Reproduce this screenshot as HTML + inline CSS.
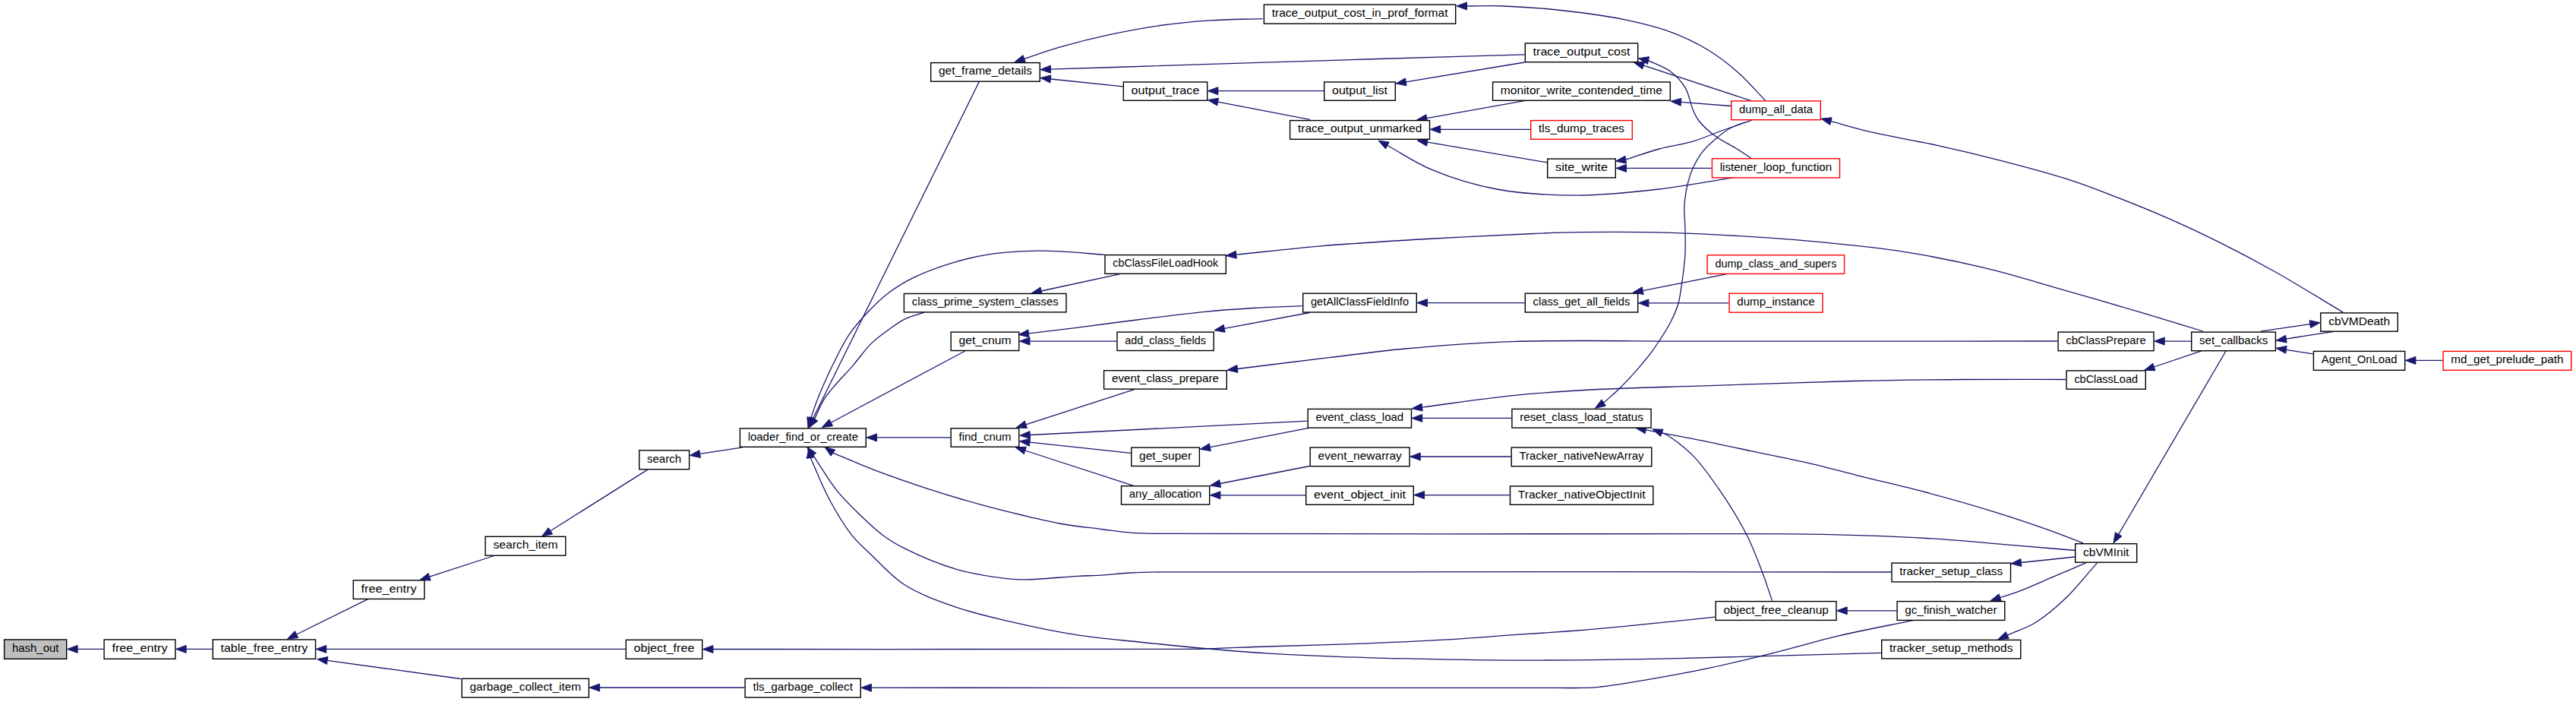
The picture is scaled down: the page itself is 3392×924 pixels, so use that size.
<!DOCTYPE html>
<html><head><meta charset="utf-8"><style>
html,body{margin:0;padding:0;background:#fff;width:3392px;height:924px;overflow:hidden}
svg{display:block}
text{font-family:"Liberation Sans",sans-serif;font-size:15px;fill:#000;text-anchor:middle}
</style></head><body>
<svg width="3392" height="924" viewBox="0 0 3392 924">
<rect width="3392" height="924" fill="#fff"/>
<g fill="none" stroke="#191970" stroke-width="1.3">
<path d="M102.1,854.4L136.4,854.4"/>
<path d="M245.1,854.4L279.6,854.4"/>
<path d="M390.5,835L484.4,788.6"/>
<path d="M429.7,854.4L823.6,854.4"/>
<path d="M431,869.4L606.8,893.5"/>
<path d="M565.5,759.2L650.7,731.5"/>
<path d="M724.8,698.8L852.4,618.4"/>
<path d="M921.6,597.4L977.8,588.8"/>
<path d="M1070.5,550.9L1289.6,107"/>
<path d="M1067.7,550C1071,540.9 1073.5,532.7 1077.6,522.7C1082.8,509.9 1089.9,493.7 1096.8,479.8C1103.6,466.1 1110.3,451.9 1118.5,439.9C1126.1,428.7 1134.8,419.1 1143.8,409.7C1152.7,400.5 1161.9,391.6 1172,384.1C1182,376.7 1191.9,370.8 1204.1,364.9C1218.9,357.7 1238.1,350.8 1255.4,345.6C1272.3,340.5 1289.5,336.6 1306.7,334.1C1323.7,331.6 1342.1,330.8 1358,330.3C1371.7,329.9 1382.3,330.2 1396.4,330.9C1413.7,331.7 1434.9,333.9 1454.1,335.4"/>
<path d="M1072.6,551.4C1077.4,541.9 1080.2,532.8 1087,522.7C1096,509.3 1113.4,492.6 1124.2,479.8C1132.8,469.7 1139,460.3 1147,452.4C1154.3,445.3 1162.1,439.8 1169.8,434.2C1177.3,428.8 1184.6,423.2 1192.6,419.4C1200.3,415.7 1208.6,414.1 1216.6,411.4"/>
<path d="M1094.2,556.2L1270.7,462"/>
<path d="M1154.5,575.9L1251.5,575.9"/>
<path d="M1097,596.1C1115.5,603.8 1133,611.7 1152.6,619.2C1174.1,627.4 1198,635.7 1220.9,643.1C1243.6,650.5 1267.1,657.5 1289.3,663.6C1310.1,669.3 1330.6,674.4 1350,679C1367.7,683.2 1384,687.1 1400.9,690C1417.4,692.9 1434.6,694.5 1450,696.5C1463.7,698.2 1475.6,700.2 1488.8,701.2C1502.5,702.2 1508.3,702.1 1530.7,702.4C1622.4,703.7 2076,702.3 2230,702.6C2305.9,702.8 2346.4,702.2 2400,703.3C2448.1,704.3 2493.2,705.9 2536.7,708.5C2576.4,710.8 2615.8,714.7 2650.7,717.6C2680.3,720 2705.4,722.2 2732.7,724.5"/>
<path d="M1070.8,599.3C1081,614.5 1090.5,631.3 1101.3,644.8C1111,657 1121.5,667.1 1132,677.3C1142.1,687.1 1152.4,697 1162.8,704.7C1172.1,711.6 1179.4,716 1191.2,721.9C1208.8,730.7 1236.4,742.6 1259.5,749.3C1282,755.8 1311.2,759.9 1327.9,761.8C1337.5,762.9 1341.1,763 1350.7,762.9C1367.4,762.8 1400.8,759.4 1419.1,758.4C1431.4,757.7 1439.1,757.8 1450,757.1C1462.2,756.4 1475.6,754.7 1488.8,754C1502.5,753.3 1507.6,753.2 1530.7,752.9C1641.3,751.5 2170.4,753 2490.3,753"/>
<path d="M1067.2,602.6C1075.7,621.2 1083.3,641.1 1092.7,658.5C1101.6,674.9 1111.9,692.2 1121.8,704.7C1129.6,714.5 1136.2,719.8 1145.6,728.7C1158.2,740.7 1173.4,758.4 1191.2,769.8C1210.8,782.4 1236.4,791.4 1259.5,799.4C1282,807.2 1303.4,811.9 1327.9,817.6C1356,824.2 1389.5,831.3 1419.1,835.9C1446.8,840.2 1472.6,842.1 1500,845C1528.2,848 1557.6,851 1585.9,853.5C1613.4,855.9 1636.9,857.9 1667.4,859.8C1706.2,862.2 1758.9,864.4 1800,865.7C1835.7,866.9 1866.7,867.2 1900,867.8C1933.3,868.4 1960.6,869.1 2000,869.1C2057.1,869.1 2135.5,868.1 2209.6,866.6C2293.3,865 2387.9,861.7 2477,859.3"/>
<path d="M938.9,854.5C1140.9,854.5 1461.7,854.8 1545,854.4C1566.6,854.3 1569.9,854.4 1585.9,854C1608.4,853.5 1636.9,852 1667.4,851C1706.2,849.7 1758.9,848.5 1800,846.9C1835.7,845.5 1866.7,844.1 1900,842.2C1933.3,840.2 1970.5,837.2 2000,835.2C2023.4,833.6 2041.9,832.6 2062.9,831C2083.9,829.4 2104.8,827.6 2125.8,825.7C2146.8,823.8 2167.2,821.6 2188.7,819.4C2211.3,817.1 2235.1,814.5 2258.3,812.1"/>
<path d="M789.6,905L980.4,905"/>
<path d="M1147.4,905.2C1398.3,905.3 1745.1,905.4 1900,905.4C1969.1,905.4 2017.8,905.4 2050,905.4C2065.3,905.4 2074,905.7 2083.9,905.4C2091.7,905.2 2096,905.2 2104.8,904.3C2120.2,902.8 2145.3,898.7 2167.7,894.9C2193.7,890.5 2223.7,885.1 2251.6,879.2C2279.6,873.3 2307.5,866.3 2335.4,859.3C2363.4,852.3 2390,844.2 2419.3,837.3C2451.2,829.8 2486.4,823.3 2519.9,816.3"/>
<path d="M1348.7,77.4C1364.5,72.2 1378.8,66.8 1396,61.9C1416.1,56.1 1439.9,50.1 1462,45.4C1483.9,40.7 1505.9,36.6 1528,33.5C1549.9,30.4 1571.8,28.4 1594,26.9C1616.6,25.4 1639.7,25.4 1662.6,24.6"/>
<path d="M1383.5,91.2C1472.3,88.3 1573.8,85.1 1650,82.7C1707.1,80.9 1745.9,79.7 1800,78C1863.6,76.1 1938.4,73.9 2007.6,71.8"/>
<path d="M1383.4,104L1478.6,113.8"/>
<path d="M1603.9,119.7L1743,119.7"/>
<path d="M1603.7,134.1L1724.8,157.3"/>
<path d="M1851.3,107.8L2007.6,82"/>
<path d="M1878.7,155.6L2007.6,132.6"/>
<path d="M1896.7,170.3L2015,170.3"/>
<path d="M1879.5,187.2L2037,213.8"/>
<path d="M1826.9,191.5C1846.4,202.1 1863.5,214.3 1885.4,223.4C1910.7,234 1940.4,243.4 1970.8,249C2004.1,255.2 2042,257.1 2077.6,257.1C2113.2,257.1 2149.4,253 2184.3,249C2218.1,245.1 2250.5,238.7 2283.6,233.6"/>
<path d="M1931.5,8C1947.6,8 1961.7,7.3 1979.8,8C2003.1,8.9 2033.1,11 2059.6,14C2086.3,17 2114.8,20.8 2139.4,25.9C2160.9,30.4 2180.5,35 2199.2,41.9C2216.9,48.4 2233.8,56.5 2249.1,65.8C2263.6,74.6 2276.5,84.7 2289,95.7C2301.7,106.9 2312.9,120.3 2324.9,132.6"/>
<path d="M2164.1,86.2L2306,132.6"/>
<path d="M2170.5,79.6C2180.1,84.4 2191,87.6 2199.2,93.8C2207.1,99.7 2214.2,107.3 2219.2,115.7C2224.3,124.3 2225.8,137 2229.4,145C2232.1,151 2233.8,155 2237.8,160C2243.1,166.6 2252,174.3 2259.8,180C2267.3,185.5 2275.9,189.1 2283.7,193.9C2291.5,198.7 2299,203.8 2306.6,208.8"/>
<path d="M2213.5,134.4L2279,139.5"/>
<path d="M2140.7,210.1C2155.5,205.4 2170.1,200 2185,196C2199.8,192 2215.5,190.2 2229.9,185.9C2243.7,181.8 2257.1,175.5 2269.7,171C2280.9,167 2295.5,162.3 2301.6,160C2304.1,159 2305.1,158.5 2306.9,157.8"/>
<path d="M2141.5,221.4L2253.7,221.4"/>
<path d="M2410.9,159.7C2429.1,164.5 2445.2,169.5 2465.5,174.2C2490.7,180.1 2522.5,185.1 2550.9,191.3C2579.5,197.6 2608,204.4 2636.4,211.8C2665,219.2 2696.3,227.5 2721.9,235.7C2743.3,242.6 2759.6,249 2780,256.8C2803,265.6 2828.6,275.8 2852.7,286.3C2877,296.9 2901.2,308.3 2925.3,320.3C2949.7,332.5 2972.8,344.8 2998,359C3025.9,374.8 3056.1,393.7 3085.2,411.1"/>
<path d="M2111.7,530.1C2118.2,524.2 2124.8,518.8 2131.3,512.5C2138.2,505.8 2145.1,498.5 2151.9,490.9C2158.9,483 2166.7,473.8 2172.6,466.1C2177.4,459.8 2180.8,454.9 2185,448.5C2189.7,441.3 2195.2,432.9 2199.4,424.8C2203.5,416.8 2207.2,408.8 2209.8,400C2212.5,390.6 2213.5,380.4 2215,370C2216.6,358.9 2218.2,347.1 2218.9,335.5C2219.6,323.6 2219.1,310.7 2218.9,299.5C2218.7,289.6 2217.4,280.9 2217.9,271.6C2218.4,262.3 2219.8,252.6 2221.9,243.7C2223.9,235.3 2226.5,227.2 2229.9,219.8C2233.2,212.7 2237.1,205.9 2241.8,199.9C2246.4,194 2251.8,189 2257.8,183.9C2264.3,178.3 2272.1,172 2279.7,168C2286.7,164.2 2294.3,162.7 2301.6,160"/>
<path d="M1627.8,335.2C1665.2,331.4 1700.4,327.1 1739.8,323.8C1783.8,320.1 1832.9,317.2 1879.5,314.5C1926.1,311.8 1982.3,309 2019.3,307.5C2043.7,306.5 2056.3,305.9 2080,305.6C2113.2,305.2 2159.2,305.1 2200,306.3C2242.5,307.6 2293.3,310.7 2330,313.2C2356.9,315 2374.2,316.4 2400,318.9C2431.9,322 2471.3,325.7 2506.8,331.3C2542.5,336.9 2578.2,344.2 2613.6,352.7C2649.4,361.3 2684.8,372.5 2720.4,382.6C2756,392.8 2795,404 2827.3,413.6C2854.2,421.6 2876.4,428.5 2901,436"/>
<path d="M1371.2,383L1474.8,360.6"/>
<path d="M1354.5,438.9C1374.8,436.5 1393.5,434.3 1415.5,431.6C1441.6,428.3 1472.5,424 1501,420.5C1529.6,416.9 1560.4,412.9 1586.9,410.3C1609.5,408.1 1628.8,406.8 1650,405.5C1671.4,404.2 1693.1,403.6 1714.6,402.6"/>
<path d="M1356,449.1L1470.3,449.1"/>
<path d="M1612.2,432.3L1724.4,411.5"/>
<path d="M1879.5,398.6L2007.6,398.6"/>
<path d="M2163.2,382.6L2274,360.7"/>
<path d="M2170.9,398.9L2276.3,398.9"/>
<path d="M1629.4,485.5C1669.6,480.5 1711.7,475.3 1750,470.7C1784.9,466.5 1813.7,462.3 1850,459C1893.1,455.1 1937.5,451.4 1991.9,449.6C2065.1,447.1 2151.7,449.3 2250,449.2C2381.2,449.1 2556.2,449.1 2709.3,449"/>
<path d="M2850.2,449.1L2885,449.1"/>
<path d="M2836.4,483L2898.8,461.8"/>
<path d="M3041.7,426.7L2976.7,436.2"/>
<path d="M3010.4,446.1C3019.8,444.6 3028.7,443.1 3038.5,441.6C3049.2,439.9 3060.8,438.2 3072,436.5"/>
<path d="M3010.4,460.4L3045.7,465.8"/>
<path d="M3180.9,474.4L3216.3,474.4"/>
<path d="M2789.7,703.3L2931,462"/>
<path d="M1872.6,536.1C1912.4,530.9 1953.6,524.6 1991.9,520.7C2027.3,517.1 2056.7,515.1 2094.4,513C2140.9,510.5 2195.5,509.5 2250,507.7C2310.3,505.7 2381.4,502.9 2440.6,501.5C2492.3,500.3 2538.3,499.8 2585.8,499.5C2631.5,499.2 2675.4,499.5 2720.2,499.5"/>
<path d="M1872.7,550.4L1990.2,550.4"/>
<path d="M1350.8,558.8L1493.6,512.7"/>
<path d="M1356.3,572.5L1721.5,554.2"/>
<path d="M1355.9,582.2L1489.1,596.4"/>
<path d="M1349.8,593L1491.9,639.1"/>
<path d="M1593.4,588.7L1724.4,563.2"/>
<path d="M1606.6,636.5L1724.4,613.5"/>
<path d="M1606.9,651.8L1719,651.8"/>
<path d="M1870.3,601L1989.5,601"/>
<path d="M1875.5,651.6L1987.8,651.6"/>
<path d="M2167.2,565.8C2187.5,569.7 2206.7,573.1 2228.3,577.4C2252.8,582.3 2280.6,588.4 2306.7,593.9C2332.8,599.4 2360.2,604.6 2385,610.3C2407.7,615.6 2426.8,621 2450,626.8C2476.7,633.5 2506.9,640.3 2536,648C2566.2,656 2599.6,665.5 2627.9,674.3C2652.5,681.9 2675.7,689.8 2696.3,697.1C2713.4,703.2 2727.4,709 2743,714.9"/>
<path d="M2188.2,569.8C2190.5,570.7 2192,570.8 2194.9,572.5C2202.2,576.7 2218.8,589.2 2229.8,600.4C2242.2,613.1 2253.5,629.4 2264.7,645.7C2276.8,663.4 2290,684.4 2299.6,703.3C2308.2,720.2 2314.7,737.8 2320.6,753.3C2325.7,766.6 2329.2,778.2 2333.5,790.6"/>
<path d="M2432.2,803.8L2497.4,803.8"/>
<path d="M2661.3,740.5L2732,733"/>
<path d="M2633.7,786.5C2642.4,783.6 2650.3,781.4 2659.8,777.8C2671.8,773.3 2685.9,766.8 2699.7,760.9C2714.7,754.5 2731,747.6 2746.6,740.9"/>
<path d="M2643.2,836.1C2655.4,830.6 2667.8,827 2679.8,819.7C2693.3,811.4 2706.7,800.1 2719.6,787.8C2734,774.2 2747.5,756.5 2761.5,740.9"/>
</g>
<g fill="#191970" stroke="#191970" stroke-width="1">
<polygon points="88.6,854.4 102.1,849.4 102.1,859.4"/>
<polygon points="231.6,854.4 245.1,849.4 245.1,859.4"/>
<polygon points="378.4,841 388.3,830.5 392.7,839.5"/>
<polygon points="416.2,854.4 429.7,849.4 429.7,859.4"/>
<polygon points="417.6,867.6 431.7,864.5 430.3,874.4"/>
<polygon points="552.7,763.4 564,754.5 567.1,764"/>
<polygon points="713.4,706 722.2,694.6 727.5,703"/>
<polygon points="908.3,599.5 920.9,592.5 922.4,602.4"/>
<polygon points="1064.5,563 1066,548.7 1075,553.1"/>
<polygon points="1064,563 1062.8,548.7 1072.5,551.4"/>
<polygon points="1065.6,563 1068.3,548.9 1076.9,554"/>
<polygon points="1082.3,562.6 1091.9,551.8 1096.6,560.7"/>
<polygon points="1141,575.9 1154.5,570.9 1154.5,580.9"/>
<polygon points="1085.9,588.4 1099.8,592 1094.1,600.2"/>
<polygon points="1062.8,588.4 1074.8,596.3 1066.8,602.2"/>
<polygon points="1065,589.3 1072.1,601.8 1062.3,603.4"/>
<polygon points="925.4,854.5 938.9,849.5 938.9,859.5"/>
<polygon points="776.1,905 789.6,900 789.6,910"/>
<polygon points="1133.9,905.2 1147.4,900.2 1147.4,910.2"/>
<polygon points="1335.9,81.7 1347.1,72.6 1350.3,82.1"/>
<polygon points="1370,91.6 1383.3,86.2 1383.7,96.2"/>
<polygon points="1370,102.6 1383.9,99 1382.9,109"/>
<polygon points="1590.4,119.7 1603.9,114.7 1603.9,124.7"/>
<polygon points="1590.4,131.6 1604.6,129.2 1602.7,139"/>
<polygon points="1838,110 1850.5,102.9 1852.1,112.7"/>
<polygon points="1865.4,158 1877.8,150.7 1879.6,160.5"/>
<polygon points="1883.2,170.3 1896.7,165.3 1896.7,175.3"/>
<polygon points="1866.2,185 1880.3,182.3 1878.7,192.2"/>
<polygon points="1815,185 1829.2,187.1 1824.5,195.9"/>
<polygon points="1918,8 1931.5,3 1931.5,13"/>
<polygon points="2151.3,82 2165.7,81.4 2162.6,90.9"/>
<polygon points="2157.3,76.8 2171.5,74.7 2169.5,84.5"/>
<polygon points="2200,133.3 2213.8,129.4 2213.1,139.3"/>
<polygon points="2127.4,212.2 2140,205.2 2141.5,215.1"/>
<polygon points="2128,221.4 2141.5,216.4 2141.5,226.4"/>
<polygon points="2397.9,156.2 2412.2,154.8 2409.7,164.5"/>
<polygon points="2100.3,537.3 2109,525.9 2114.4,534.3"/>
<polygon points="1614.4,336.6 1627.3,330.3 1628.3,340.2"/>
<polygon points="1358,386 1370,378.1 1372.3,387.9"/>
<polygon points="1341.1,440.5 1353.9,433.9 1355.1,443.9"/>
<polygon points="1342.5,449.1 1356,444.1 1356,454.1"/>
<polygon points="1598.9,434.8 1611.3,427.4 1613.1,437.3"/>
<polygon points="1866,398.6 1879.5,393.6 1879.5,403.6"/>
<polygon points="2150,385.2 2162.3,377.7 2164.2,387.5"/>
<polygon points="2157.4,398.9 2170.9,393.9 2170.9,403.9"/>
<polygon points="1616,487.1 1628.8,480.5 1630,490.4"/>
<polygon points="2836.7,449.1 2850.2,444.1 2850.2,454.1"/>
<polygon points="2823.6,487.3 2834.8,478.2 2838,487.7"/>
<polygon points="3055.1,424.7 3042.5,431.6 3041,421.7"/>
<polygon points="2997.1,448.3 3009.6,441.2 3011.2,451.1"/>
<polygon points="2997.1,458.3 3011.2,455.4 3009.7,465.3"/>
<polygon points="3167.4,474.4 3180.9,469.4 3180.9,479.4"/>
<polygon points="2782.9,714.9 2785.4,700.7 2794,705.8"/>
<polygon points="1859.2,537.8 1872,531.1 1873.2,541"/>
<polygon points="1859.2,550.4 1872.7,545.4 1872.7,555.4"/>
<polygon points="1338,562.9 1349.3,554 1352.4,563.5"/>
<polygon points="1342.8,573.2 1356,567.5 1356.5,577.5"/>
<polygon points="1342.5,580.8 1356.5,577.3 1355.4,587.2"/>
<polygon points="1337,588.8 1351.4,588.2 1348.3,597.7"/>
<polygon points="1580.1,591.3 1592.4,583.8 1594.3,593.6"/>
<polygon points="1593.4,639.1 1605.7,631.6 1607.6,641.4"/>
<polygon points="1593.4,651.8 1606.9,646.8 1606.9,656.8"/>
<polygon points="1856.8,601 1870.3,596 1870.3,606"/>
<polygon points="1862,651.6 1875.5,646.6 1875.5,656.6"/>
<polygon points="2153.9,563.3 2168.1,560.9 2166.2,570.7"/>
<polygon points="2175.7,564.8 2190.1,565.2 2186.4,574.5"/>
<polygon points="2418.7,803.8 2432.2,798.8 2432.2,808.8"/>
<polygon points="2647.9,741.9 2660.8,735.5 2661.9,745.5"/>
<polygon points="2620.9,790.8 2632.1,781.8 2635.3,791.3"/>
<polygon points="2630.9,841.6 2641.2,831.5 2645.3,840.6"/>
</g>
<g stroke-width="1.4">
<rect x="5.6" y="841.9" width="82.1" height="25.4" fill="#bfbfbf" stroke="#000000"/>
<text x="46.7" y="858.1" textLength="61.5" lengthAdjust="spacingAndGlyphs">hash_out</text>
<rect x="137.1" y="841.9" width="93.8" height="25.4" fill="#ffffff" stroke="#000000"/>
<text x="184" y="858.1" textLength="73.2" lengthAdjust="spacingAndGlyphs">free_entry</text>
<rect x="280.3" y="841.9" width="135.2" height="25.4" fill="#ffffff" stroke="#000000"/>
<text x="347.9" y="858.1" textLength="114.6" lengthAdjust="spacingAndGlyphs">table_free_entry</text>
<rect x="465.2" y="763.8" width="93.6" height="24.6" fill="#ffffff" stroke="#000000"/>
<text x="512" y="779.6" textLength="73" lengthAdjust="spacingAndGlyphs">free_entry</text>
<rect x="639.1" y="706.3" width="105.7" height="24.9" fill="#ffffff" stroke="#000000"/>
<text x="692" y="722.2" textLength="85.1" lengthAdjust="spacingAndGlyphs">search_item</text>
<rect x="841.7" y="592.8" width="65.9" height="24.9" fill="#ffffff" stroke="#000000"/>
<text x="874.6" y="608.8" textLength="45.3" lengthAdjust="spacingAndGlyphs">search</text>
<rect x="974.4" y="563.9" width="165.9" height="24.4" fill="#ffffff" stroke="#000000"/>
<text x="1057.3" y="579.6" textLength="145.3" lengthAdjust="spacingAndGlyphs">loader_find_or_create</text>
<rect x="824.3" y="842.3" width="100.4" height="24.9" fill="#ffffff" stroke="#000000"/>
<text x="874.5" y="858.2" textLength="79.8" lengthAdjust="spacingAndGlyphs">object_free</text>
<rect x="608.2" y="893.3" width="167.2" height="24.7" fill="#ffffff" stroke="#000000"/>
<text x="691.8" y="909.1" textLength="146.6" lengthAdjust="spacingAndGlyphs">garbage_collect_item</text>
<rect x="981.1" y="893.3" width="152.1" height="24.7" fill="#ffffff" stroke="#000000"/>
<text x="1057.2" y="909.1" textLength="131.5" lengthAdjust="spacingAndGlyphs">tls_garbage_collect</text>
<rect x="1225.7" y="82.6" width="143.6" height="24.6" fill="#ffffff" stroke="#000000"/>
<text x="1297.5" y="98.4" textLength="123" lengthAdjust="spacingAndGlyphs">get_frame_details</text>
<rect x="1190.4" y="386.5" width="213.6" height="24.4" fill="#ffffff" stroke="#000000"/>
<text x="1297.2" y="402.2" textLength="193" lengthAdjust="spacingAndGlyphs">class_prime_system_classes</text>
<rect x="1252.2" y="437.1" width="89.6" height="24.4" fill="#ffffff" stroke="#000000"/>
<text x="1297" y="452.8" textLength="69" lengthAdjust="spacingAndGlyphs">get_cnum</text>
<rect x="1252.2" y="563.8" width="89.6" height="24.4" fill="#ffffff" stroke="#000000"/>
<text x="1297" y="579.5" textLength="69" lengthAdjust="spacingAndGlyphs">find_cnum</text>
<rect x="1479.3" y="108" width="110.4" height="24.3" fill="#ffffff" stroke="#000000"/>
<text x="1534.5" y="123.7" textLength="89.8" lengthAdjust="spacingAndGlyphs">output_trace</text>
<rect x="1455" y="335.6" width="159.3" height="24.7" fill="#ffffff" stroke="#000000"/>
<text x="1534.7" y="351.4" textLength="138.7" lengthAdjust="spacingAndGlyphs">cbClassFileLoadHook</text>
<rect x="1471" y="437.1" width="127.2" height="24.4" fill="#ffffff" stroke="#000000"/>
<text x="1534.6" y="452.8" textLength="106.6" lengthAdjust="spacingAndGlyphs">add_class_fields</text>
<rect x="1453.6" y="487.7" width="161.7" height="24.4" fill="#ffffff" stroke="#000000"/>
<text x="1534.5" y="503.4" textLength="141.1" lengthAdjust="spacingAndGlyphs">event_class_prepare</text>
<rect x="1489.8" y="589.1" width="89.6" height="24.4" fill="#ffffff" stroke="#000000"/>
<text x="1534.6" y="604.8" textLength="69" lengthAdjust="spacingAndGlyphs">get_super</text>
<rect x="1476.5" y="639.7" width="116.2" height="24.4" fill="#ffffff" stroke="#000000"/>
<text x="1534.6" y="655.4" textLength="95.6" lengthAdjust="spacingAndGlyphs">any_allocation</text>
<rect x="1664.4" y="6.1" width="252.3" height="25.1" fill="#ffffff" stroke="#000000"/>
<text x="1790.6" y="22.1" textLength="231.7" lengthAdjust="spacingAndGlyphs">trace_output_cost_in_prof_format</text>
<rect x="1743.7" y="108" width="93.6" height="24.3" fill="#ffffff" stroke="#000000"/>
<text x="1790.5" y="123.7" textLength="73" lengthAdjust="spacingAndGlyphs">output_list</text>
<rect x="1698.6" y="158.6" width="183.9" height="24.7" fill="#ffffff" stroke="#000000"/>
<text x="1790.6" y="174.4" textLength="163.3" lengthAdjust="spacingAndGlyphs">trace_output_unmarked</text>
<rect x="1715.7" y="386.2" width="149.6" height="24.8" fill="#ffffff" stroke="#000000"/>
<text x="1790.5" y="402.1" textLength="129" lengthAdjust="spacingAndGlyphs">getAllClassFieldInfo</text>
<rect x="1722.2" y="538.4" width="136.3" height="24.7" fill="#ffffff" stroke="#000000"/>
<text x="1790.3" y="554.2" textLength="115.7" lengthAdjust="spacingAndGlyphs">event_class_load</text>
<rect x="1725.2" y="589" width="130.9" height="24.7" fill="#ffffff" stroke="#000000"/>
<text x="1790.7" y="604.8" textLength="110.3" lengthAdjust="spacingAndGlyphs">event_newarray</text>
<rect x="1719.7" y="639.9" width="141.6" height="24.4" fill="#ffffff" stroke="#000000"/>
<text x="1790.5" y="655.6" textLength="121" lengthAdjust="spacingAndGlyphs">event_object_init</text>
<rect x="2008.3" y="57" width="148.4" height="24.7" fill="#ffffff" stroke="#000000"/>
<text x="2082.5" y="72.8" textLength="127.8" lengthAdjust="spacingAndGlyphs">trace_output_cost</text>
<rect x="1965.6" y="108" width="233.7" height="24.3" fill="#ffffff" stroke="#000000"/>
<text x="2082.4" y="123.7" textLength="213.1" lengthAdjust="spacingAndGlyphs">monitor_write_contended_time</text>
<rect x="2015.7" y="158.6" width="133.6" height="24.7" fill="#ffffff" stroke="#ff0000"/>
<text x="2082.5" y="174.4" textLength="113" lengthAdjust="spacingAndGlyphs">tls_dump_traces</text>
<rect x="2037.7" y="209.1" width="89.6" height="24.8" fill="#ffffff" stroke="#000000"/>
<text x="2082.5" y="225" textLength="69" lengthAdjust="spacingAndGlyphs">site_write</text>
<rect x="2008.3" y="386.2" width="148.4" height="24.8" fill="#ffffff" stroke="#000000"/>
<text x="2082.5" y="402.1" textLength="127.8" lengthAdjust="spacingAndGlyphs">class_get_all_fields</text>
<rect x="1990.9" y="538.4" width="183.2" height="24.7" fill="#ffffff" stroke="#000000"/>
<text x="2082.5" y="554.2" textLength="162.6" lengthAdjust="spacingAndGlyphs">reset_class_load_status</text>
<rect x="1990.2" y="589" width="184.6" height="24.7" fill="#ffffff" stroke="#000000"/>
<text x="2082.5" y="604.8" textLength="164" lengthAdjust="spacingAndGlyphs">Tracker_nativeNewArray</text>
<rect x="1988.5" y="639.9" width="188.3" height="24.4" fill="#ffffff" stroke="#000000"/>
<text x="2082.7" y="655.6" textLength="167.7" lengthAdjust="spacingAndGlyphs">Tracker_nativeObjectInit</text>
<rect x="2279.7" y="132.9" width="117.6" height="24.8" fill="#ffffff" stroke="#ff0000"/>
<text x="2338.5" y="148.8" textLength="97" lengthAdjust="spacingAndGlyphs">dump_all_data</text>
<rect x="2254.4" y="208.8" width="168.1" height="25.1" fill="#ffffff" stroke="#ff0000"/>
<text x="2338.4" y="224.8" textLength="147.5" lengthAdjust="spacingAndGlyphs">listener_loop_function</text>
<rect x="2248.1" y="335.8" width="180.5" height="24.6" fill="#ffffff" stroke="#ff0000"/>
<text x="2338.4" y="351.6" textLength="159.9" lengthAdjust="spacingAndGlyphs">dump_class_and_supers</text>
<rect x="2277" y="386.2" width="123" height="25" fill="#ffffff" stroke="#ff0000"/>
<text x="2338.5" y="402.2" textLength="102.4" lengthAdjust="spacingAndGlyphs">dump_instance</text>
<rect x="2259.2" y="791.6" width="158.8" height="24.8" fill="#ffffff" stroke="#000000"/>
<text x="2338.6" y="807.5" textLength="138.2" lengthAdjust="spacingAndGlyphs">object_free_cleanup</text>
<rect x="2710.1" y="437.1" width="125.9" height="24.6" fill="#ffffff" stroke="#000000"/>
<text x="2773.1" y="452.9" textLength="105.3" lengthAdjust="spacingAndGlyphs">cbClassPrepare</text>
<rect x="2721.1" y="487.9" width="104.2" height="24.3" fill="#ffffff" stroke="#000000"/>
<text x="2773.2" y="503.5" textLength="83.6" lengthAdjust="spacingAndGlyphs">cbClassLoad</text>
<rect x="2491" y="741.1" width="156.5" height="24.8" fill="#ffffff" stroke="#000000"/>
<text x="2569.2" y="757" textLength="135.9" lengthAdjust="spacingAndGlyphs">tracker_setup_class</text>
<rect x="2498.1" y="791.6" width="141.7" height="24.8" fill="#ffffff" stroke="#000000"/>
<text x="2568.9" y="807.5" textLength="121.1" lengthAdjust="spacingAndGlyphs">gc_finish_watcher</text>
<rect x="2477.7" y="842.4" width="183.1" height="24.5" fill="#ffffff" stroke="#000000"/>
<text x="2569.2" y="858.1" textLength="162.5" lengthAdjust="spacingAndGlyphs">tracker_setup_methods</text>
<rect x="2732.7" y="715.7" width="81" height="24.5" fill="#ffffff" stroke="#000000"/>
<text x="2773.2" y="731.5" textLength="60.4" lengthAdjust="spacingAndGlyphs">cbVMInit</text>
<rect x="2885.7" y="437.1" width="110.7" height="24.6" fill="#ffffff" stroke="#000000"/>
<text x="2941.1" y="452.9" textLength="90.1" lengthAdjust="spacingAndGlyphs">set_callbacks</text>
<rect x="3055.8" y="411.9" width="101.5" height="24.3" fill="#ffffff" stroke="#000000"/>
<text x="3106.6" y="427.5" textLength="80.9" lengthAdjust="spacingAndGlyphs">cbVMDeath</text>
<rect x="3046.4" y="462.4" width="120.3" height="24.9" fill="#ffffff" stroke="#000000"/>
<text x="3106.6" y="478.4" textLength="99.7" lengthAdjust="spacingAndGlyphs">Agent_OnLoad</text>
<rect x="3217" y="462.4" width="168.7" height="24.9" fill="#ffffff" stroke="#ff0000"/>
<text x="3301.4" y="478.4" textLength="148.1" lengthAdjust="spacingAndGlyphs">md_get_prelude_path</text>
</g>
</svg></body></html>
